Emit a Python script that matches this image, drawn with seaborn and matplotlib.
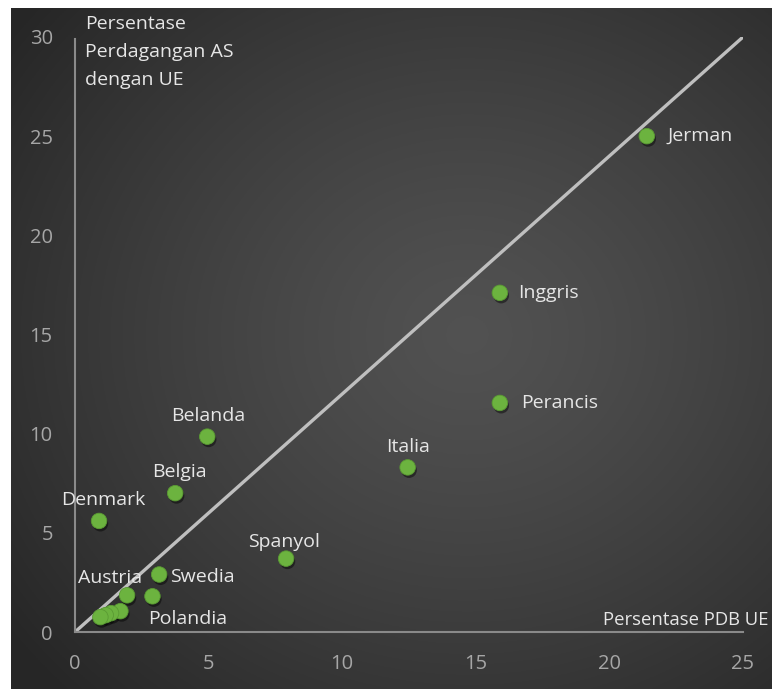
import numpy as np
import pandas as pd
import matplotlib.pyplot as plt
import matplotlib.patheffects as pe
import seaborn as sns

# Data
countries = ['Jerman', 'Inggris', 'Perancis', 'Italia', 'Spanyol', 'Belanda', 'Belgia',
             'Denmark', 'Swedia', 'Polandia', 'Austria', '', '', '', '']
pdb_share = [21.4, 15.9, 15.9, 12.45, 7.9, 4.95, 3.75, 0.9, 3.15, 2.9, 1.95, 1.7, 1.35, 1.15, 0.95]
trade_share = [25.0, 17.1, 11.55, 8.3, 3.7, 9.85, 7.0, 5.6, 2.9, 1.8, 1.85, 1.05, 0.95, 0.85, 0.75]
# label offsets in pixels (dx, dy, ha)
offsets = [(21, 0, 'left'), (18, 0, 'left'), (21, 0, 'left'), (0, 20, 'center'),
           (-2, 17, 'center'), (1, 21, 'center'), (4, 21, 'center'), (4, 21, 'center'),
           (11, -3, 'left'), (35, -23, 'center'), (-17, 17, 'center'),
           (0, 0, 'left'), (0, 0, 'left'), (0, 0, 'left'), (0, 0, 'left')]

df = pd.DataFrame({'negara': countries, 'pdb': pdb_share, 'dagang': trade_share})

sns.set_theme(style='dark')
plt.rcParams['font.family'] = ['Open Sans', 'DejaVu Sans']

W, H = 772, 689
fig = plt.figure(figsize=(W / 100, H / 100), dpi=100)
fig.patch.set_facecolor('white')

# radial gradient background
bg = fig.add_axes([11 / W, 0, (W - 11) / W, (H - 8) / H])
gx, gy = np.meshgrid(np.linspace(0, 1, 400), np.linspace(0, 1, 400))
r = np.sqrt(((gx - 0.6) / 0.75) ** 2 + ((gy - 0.52) / 0.75) ** 2)
r = np.clip(r, 0, 1)
c = 0.32 - 0.17 * r ** 1.3
bg.imshow(np.dstack([c, c, c]), extent=[0, 1, 0, 1], aspect='auto', origin='lower')
bg.axis('off')

ax = fig.add_axes([75 / W, 57 / H, 668 / W, 595 / H])
ax.set_facecolor('none')
ax.set_xlim(0, 25)
ax.set_ylim(0, 30)

ax.plot([0, 25], [0, 30], color='#bfbfbf', lw=2.4, solid_capstyle='butt', zorder=2)

sns.scatterplot(data=df, x='pdb', y='dagang', ax=ax, color='#6cb33f', s=125,
                edgecolor='#5a9a33', linewidth=0.6, zorder=3, legend=False,
                path_effects=[pe.SimplePatchShadow(offset=(1, -2), shadow_rgbFace='black', alpha=0.45),
                              pe.Normal()])

for name, x, y, (dx, dy, ha) in zip(countries, pdb_share, trade_share, offsets):
    if name:
        ax.annotate(name, (x, y), xytext=(dx * 0.72, dy * 0.72), textcoords='offset points',
                    ha=ha, va='center', color='#e6e6e6', fontsize=14, zorder=4)

for s in ['top', 'right']:
    ax.spines[s].set_visible(False)
for s in ['left', 'bottom']:
    ax.spines[s].set_visible(True)
    ax.spines[s].set_color('#8a8a8a')
    ax.spines[s].set_linewidth(1.5)
ax.spines['left'].set_bounds(0, 29.9)

ax.set_xticks([0, 5, 10, 15, 20, 25])
ax.set_yticks([0, 5, 10, 15, 20, 25, 30])
ax.tick_params(axis='x', length=0, pad=16, labelcolor='#a6a6a6', labelsize=14.5)
ax.tick_params(axis='y', length=0, pad=16, labelcolor='#a6a6a6', labelsize=14.5)
ax.grid(False)
ax.set_xlabel('')
ax.set_ylabel('')

fig.text(85 / W, 1 - 15 / H, 'Persentase\nPerdagangan AS\ndengan UE', ha='left', va='top',
         color='#e6e6e6', fontsize=14, linespacing=1.7)
fig.text(603 / W, 1 - 620 / H, 'Persentase PDB UE', ha='left', va='center',
         color='#e6e6e6', fontsize=13.3)

fig.savefig('out.png', dpi=100)
